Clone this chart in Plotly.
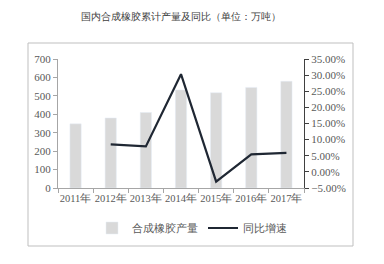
import plotly.graph_objects as go

years = ["2011年", "2012年", "2013年", "2014年", "2015年", "2016年", "2017年"]
output = [348, 380, 410, 532, 517, 546, 579]
growth_years = ["2012年", "2013年", "2014年", "2015年", "2016年", "2017年"]
growth = [0.0855, 0.079, 0.303, -0.030, 0.0545, 0.059]

serif = "Times New Roman, Liberation Serif, DejaVu Serif, serif"
txt = "#595959"

fig = go.Figure()
fig.add_trace(go.Bar(x=years, y=output, name="合成橡胶产量", marker_color="#d9d9d9",
                     width=0.32, yaxis="y"))
fig.add_trace(go.Scatter(x=growth_years, y=growth, name="同比增速", mode="lines",
                         line=dict(color="#1f2733", width=2.2), yaxis="y2"))

L, R, T, B = 58, 80, 59, 76
W, H = 384, 264
pw, ph = W - L - R, H - T - B

def px(x):
    return (x - L) / pw

def py(y):
    return (H - B - y) / ph

fig.update_layout(
    width=W, height=H,
    margin=dict(l=L, r=R, t=T, b=B, pad=0),
    paper_bgcolor="white", plot_bgcolor="white",
    font=dict(family=serif, size=11, color=txt),
    title=dict(text="国内合成橡胶累计产量及同比（单位：万吨）", x=0.5, xref="paper", xanchor="center",
               y=1 - 16 / H, yanchor="middle", font=dict(size=10, color="#404040", family=serif)),
    showlegend=True,
    legend=dict(orientation="h", x=px(192), xanchor="center", y=py(228), yanchor="middle",
                font=dict(size=11, color=txt), itemwidth=30, tracegroupgap=0),
    xaxis=dict(type="category", range=[-0.5, 6.5], showline=True, linecolor="#a6a6a6",
               ticks="outside", tickson="boundaries", ticklen=4, tickcolor="#a6a6a6",
               tickangle=0, tickfont=dict(size=10.5, color=txt), showgrid=False),
    yaxis=dict(range=[0, 700], dtick=100, showline=True, linecolor="#a6a6a6", ticks="outside",
               ticklen=4, tickcolor="#a6a6a6", showgrid=False, zeroline=False,
               tickfont=dict(size=11, color=txt)),
    yaxis2=dict(range=[-0.05, 0.35], dtick=0.05, tickformat=".2%", overlaying="y", side="right",
                showline=True, linecolor="#404040", ticks="outside", ticklen=4, tickcolor="#404040",
                showgrid=False, zeroline=False, tickfont=dict(size=11, color=txt)),
    shapes=[dict(type="rect", xref="paper", yref="paper", x0=px(28), x1=px(353),
                 y0=py(246), y1=py(43), line=dict(color="#bfbfbf", width=1), layer="below")],
)

fig.write_html("out.html")
